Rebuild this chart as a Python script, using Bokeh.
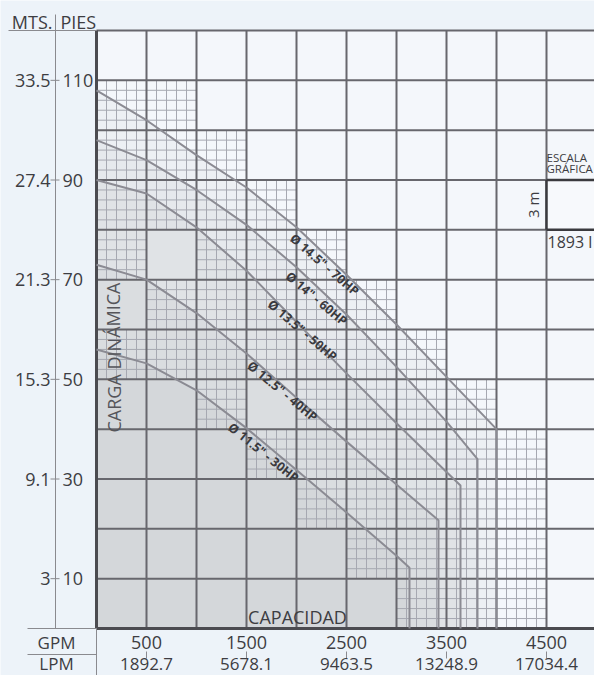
import math
from bokeh.plotting import figure
from bokeh.models import Range1d
from bokeh.core.properties import value
from bokeh.embed import file_html
from bokeh.resources import INLINE

# ---------------- data ----------------
gpm_ticks = [500, 1500, 2500, 3500, 4500]
gpm_labels = ["500", "1500", "2500", "3500", "4500"]
lpm_labels = ["1892.7", "5678.1", "9463.5", "13248.9", "17034.4"]
ft_ticks = [10, 30, 50, 70, 90, 110]
ft_labels = ["10", "30", "50", "70", "90", "110"]
m_labels = ["3", "9.1", "15.3", "21.3", "27.4", "33.5"]

curve_names = ['Ø 14.5" - 70HP', 'Ø 14" - 60HP', 'Ø 13.5" - 50HP',
               'Ø 12.5" - 40HP', 'Ø 11.5" - 30HP']
q_145 = [0, 500, 1000, 1500, 2000, 2500, 3000, 3500, 4000]
h_145 = [108, 102, 95, 88.5, 80.5, 71, 61, 50.5, 40]
q_140 = [0, 500, 1000, 1500, 2000, 2500, 3000, 3500, 3810]
h_140 = [98, 94, 88, 81, 72.5, 63, 52.5, 41.5, 34]
q_135 = [0, 500, 1000, 1500, 2000, 2500, 3000, 3500, 3640]
h_135 = [90, 87.3, 80.5, 71.8, 61.5, 51.2, 41.2, 31.4, 28.7]
q_125 = [0, 500, 1000, 1500, 2000, 2500, 3000, 3420]
h_125 = [73, 70, 63.3, 55.2, 46.3, 37.5, 28.9, 21.7]
q_115 = [0, 500, 1000, 1500, 2000, 2500, 3000, 3130]
h_115 = [56, 53.2, 47.8, 40.2, 31.8, 23.3, 14.6, 12.2]
curves_q = [q_145, q_140, q_135, q_125, q_115]
curves_h = [h_145, h_140, h_135, h_125, h_115]

label_q = [2280, 2200, 2060, 1860, 1670]
label_h = [73.0, 66.2, 59.8, 47.6, 35.3]
label_angle = [41, 40, 40.6, 39.6, 39]

# cells (column of 500 GPM, row of 10 ft) drawn with the fine grid
hatched_cells = [
    (0, 10), (1, 10),
    (0, 9), (1, 9), (2, 9),
    (0, 8), (1, 8), (2, 8), (3, 8),
    (0, 7), (2, 7), (3, 7), (4, 7),
    (1, 6), (2, 6), (3, 6), (4, 6), (5, 6),
    (0, 5), (1, 5), (2, 5), (3, 5), (4, 5), (5, 5), (6, 5),
    (2, 4), (4, 4), (5, 4), (6, 4), (7, 4),
    (3, 3), (4, 3), (5, 3), (6, 3), (7, 3), (8, 3),
    (4, 2), (5, 2), (6, 2), (7, 2), (8, 2),
    (5, 1), (6, 1), (7, 1), (8, 1),
    (6, 0), (7, 0), (8, 0),
]

# ---------------- layout helpers ----------------
W, H = 594, 675
PX_FT = 598 / 120.0          # pixels per foot
PX_GPM = 0.1                 # pixels per gpm
def fx(px):   # page x -> gpm
    return (px - 96) / PX_GPM
def fy(py):   # page y -> ft
    return (628 - py) / PX_FT
X_MIN, X_MAX = fx(0), fx(W)
Y_MIN, Y_MAX = fy(H), fy(0)

FONT = value("Open Sans")
TXT = "#3d3d42"

p = figure(width=W, height=H, x_range=Range1d(X_MIN, X_MAX),
           y_range=Range1d(Y_MIN, Y_MAX), output_backend="svg",
           toolbar_location=None, min_border=0,
           x_axis_location=None, y_axis_location=None)
p.xgrid.grid_line_color = None
p.ygrid.grid_line_color = None
p.outline_line_color = None
p.background_fill_color = "#edf3f9"
p.border_fill_color = "#edf3f9"

# plot area
p.quad(left=[0], right=[X_MAX], bottom=[0], top=[120],
       fill_color="#f4f7fb", line_color=None)

# shaded areas under the curves
for q, h in zip(curves_q, curves_h):
    p.patch(x=[0] + q + [q[-1]], y=[0] + h + [0],
            fill_color="#736c7d", fill_alpha=0.052, line_color=None)

# fine grid
fx0, fy0, fx1, fy1 = [], [], [], []
for c, r in hatched_cells:
    x0, y0 = c * 500, r * 10
    for k in range(1, 5):
        fx0.append(x0 + k * 100); fx1.append(x0 + k * 100)
        fy0.append(y0); fy1.append(y0 + 10)
        fx0.append(x0); fx1.append(x0 + 500)
        fy0.append(y0 + k * 2); fy1.append(y0 + k * 2)
p.segment(x0=fx0, y0=fy0, x1=fx1, y1=fy1, line_color="#a6a8b1", line_width=1)

# major grid
vx = list(range(500, 5000, 500))
p.segment(x0=vx, y0=[0] * len(vx), x1=vx, y1=[120] * len(vx),
          line_color="#67676d", line_width=2)
hy = list(range(10, 130, 10))
p.segment(x0=[0] * len(hy), y0=hy, x1=[X_MAX] * len(hy), y1=hy,
          line_color="#67676d", line_width=2)
# borders
p.segment(x0=[0, 0], y0=[0, 0], x1=[0, X_MAX], y1=[120, 0],
          line_color="#4b4b50", line_width=3)

# curves
for q, h in zip(curves_q, curves_h):
    p.line(x=q + [q[-1]], y=h + [0], line_color="#8b8b93", line_width=2)

# curve labels
p.text(x=label_q, y=label_h, text=curve_names,
       angle=[-math.radians(a) for a in label_angle],
       text_align="center", text_baseline="middle", text_font=FONT,
       text_font_size="12.5px", text_font_style="bold", text_color="#3a3a3e")

# scale box
p.quad(left=[4500], right=[X_MAX], bottom=[80], top=[90],
       fill_color="#f7f9fc", line_color=None)
p.segment(x0=[4500, 4500, 4500], y0=[90, 80, 80], x1=[X_MAX, 4500, X_MAX],
          y1=[90, 90, 80], line_color="#3a3a3e", line_width=2.5)
p.text(x=[fx(546), fx(546)], y=[fy(157), fy(168)], text=["ESCALA", "GRÁFICA"],
       text_align="left", text_baseline="middle", text_font=FONT,
       text_font_size="11.5px", text_color=TXT)
p.text(x=[fx(532)], y=[85], text=["3 m"], angle=[math.pi / 2],
       text_align="center", text_baseline="middle", text_font=FONT,
       text_font_size="15px", text_color=TXT)
p.text(x=[fx(547)], y=[fy(241)], text=["1893 l"], text_align="left",
       text_baseline="middle", text_font=FONT, text_font_size="16px",
       text_color=TXT)

# axis titles inside plot
p.text(x=[fx(113)], y=[fy(357)], text=["CARGA DINÁMICA"], angle=[math.pi / 2],
       text_align="center", text_baseline="middle", text_font=FONT,
       text_font_size="18px", text_color="#55555a")
p.text(x=[fx(297)], y=[fy(616)], text=["CAPACIDAD"], text_align="center",
       text_baseline="middle", text_font=FONT, text_font_size="18px",
       text_color=TXT)

# left scale
p.segment(x0=[fx(8)], y0=[120], x1=[0], y1=[120], line_color="#8a8a8f", line_width=1)
p.segment(x0=[fx(55)], y0=[fy(14)], x1=[fx(55)], y1=[0], line_color="#8a8a8f", line_width=1)
p.segment(x0=[fx(50)] * len(ft_ticks), y0=ft_ticks, x1=[fx(59)] * len(ft_ticks),
          y1=ft_ticks, line_color="#8a8a8f", line_width=1)
p.text(x=[fx(52)], y=[fy(21)], text=["MTS."], text_align="right",
       text_baseline="middle", text_font=FONT, text_font_size="18px", text_color=TXT)
p.text(x=[fx(60)], y=[fy(21)], text=["PIES"], text_align="left",
       text_baseline="middle", text_font=FONT, text_font_size="18px", text_color=TXT)
p.text(x=[fx(50)] * len(ft_ticks), y=ft_ticks, text=m_labels, text_align="right",
       text_baseline="middle", text_font=FONT, text_font_size="18px", text_color=TXT)
p.text(x=[fx(62)] * len(ft_ticks), y=ft_ticks, text=ft_labels, text_align="left",
       text_baseline="middle", text_font=FONT, text_font_size="18px", text_color=TXT)

# bottom scale
p.segment(x0=[fx(27), fx(27), 0], y0=[0, fy(654), 0], x1=[0, 0, 0],
          y1=[0, fy(654), Y_MIN], line_color="#8a8a8f", line_width=1)
p.segment(x0=gpm_ticks, y0=[fy(651)] * len(gpm_ticks), x1=gpm_ticks,
          y1=[fy(658)] * len(gpm_ticks), line_color="#8a8a8f", line_width=1)
p.text(x=[fx(56), fx(56)], y=[fy(642), fy(663)], text=["GPM", "LPM"],
       text_align="center", text_baseline="middle", text_font=FONT,
       text_font_size="17px", text_color=TXT)
p.text(x=gpm_ticks, y=[fy(642)] * len(gpm_ticks), text=gpm_labels,
       text_align="center", text_baseline="middle", text_font=FONT,
       text_font_size="18px", text_color=TXT)
p.text(x=gpm_ticks, y=[fy(663)] * len(gpm_ticks), text=lpm_labels,
       text_align="center", text_baseline="middle", text_font=FONT,
       text_font_size="17px", text_color=TXT)

open("out.html", "w").write(file_html(p, INLINE))
